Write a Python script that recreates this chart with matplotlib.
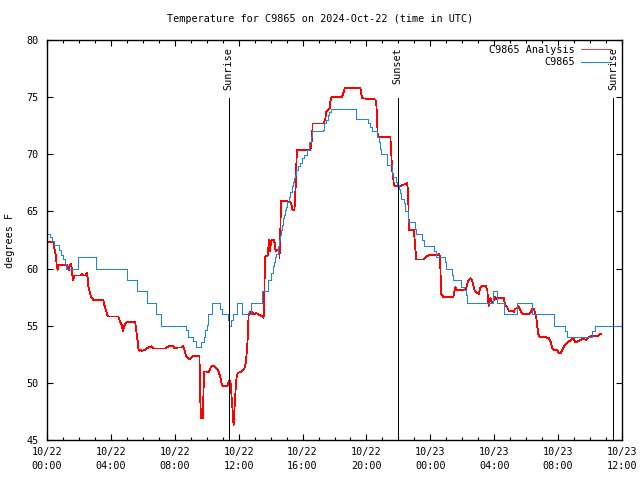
import matplotlib
matplotlib.use("Agg")
import matplotlib.pyplot as plt
from matplotlib.ticker import MultipleLocator, FixedLocator

# ---- data (hours since 2024-10-22 00:00 UTC, degrees F) ----
obs_hours = [0.00, 0.19, 0.31, 0.41, 0.75, 0.88, 1.00, 1.10, 1.19, 1.94, 3.07, 4.98, 5.64,
             6.24, 6.80, 7.15, 8.71, 8.84, 9.17, 9.32, 9.66, 9.80, 9.91, 10.01, 10.11, 10.36,
             10.85, 10.95, 11.35, 11.41, 11.54, 11.62, 11.88, 12.23, 12.79, 13.45, 13.82,
             14.04, 14.13, 14.19, 14.25, 14.36, 14.44, 14.53, 14.56, 14.65, 14.71, 14.75,
             14.84, 14.90, 14.97, 15.05, 15.13, 15.24, 15.34, 15.38, 15.44, 15.50, 15.61,
             15.69, 15.82, 15.97, 16.07, 16.28, 16.43, 16.53, 16.60, 17.29, 17.32, 17.49,
             17.57, 17.66, 17.79, 19.34, 20.09, 20.25, 20.34, 20.63, 20.77, 20.82, 20.91,
             21.30, 21.60, 21.68, 21.82, 21.92, 22.03, 22.09, 22.18, 22.34, 22.40, 22.61,
             23.04, 23.12, 23.48, 23.59, 24.26, 24.33, 24.89, 24.95, 25.36, 25.44, 25.89,
             26.10, 26.21, 26.31, 27.90, 28.15, 28.61, 29.40, 30.38, 31.72, 32.41, 32.58,
             34.14, 34.31, 36.00]
obs_temps = [63.0, 62.8, 62.4, 62.1, 61.6, 61.2, 60.8, 60.4, 60.0, 61.0, 60.0, 59.0, 58.0,
             57.0, 56.0, 55.0, 54.6, 54.0, 53.7, 53.1, 53.6, 54.0, 54.6, 55.1, 56.0, 57.0,
             56.5, 56.0, 55.5, 55.0, 55.5, 56.0, 57.0, 56.0, 57.0, 58.0, 59.0,
             59.6, 60.2, 60.6, 61.0, 61.3, 62.0, 62.5, 62.9, 63.4, 63.8, 64.4,
             64.7, 65.1, 65.4, 65.85, 66.3, 66.7, 67.2, 67.6, 67.9, 68.2, 68.6,
             69.0, 69.2, 69.65, 69.9, 70.4, 71.1, 71.5, 72.0, 72.1, 72.7, 73.0,
             73.4, 73.7, 74.0, 73.1, 72.7, 72.4, 72.0, 71.5, 71.1, 70.5, 70.0,
             69.1, 68.3, 68.0, 67.6, 67.3, 67.0, 66.6, 66.1, 65.7, 65.0, 64.1,
             63.5, 63.0, 62.5, 62.0, 61.5, 61.0, 60.6, 60.0, 59.4, 59.0, 58.4,
             58.1, 57.7, 57.0, 58.0, 57.0, 56.0, 57.0, 56.0, 55.0, 54.5, 54.0,
             54.5, 55.0, 55.0]

ana_hours = [0.00, 0.39, 0.46, 0.50, 0.56, 0.61, 0.67, 0.71, 1.24, 1.34, 1.38, 1.44, 1.50,
             1.55, 1.59, 1.65, 1.71, 2.07, 2.18, 2.28, 2.43, 2.49, 2.55, 2.59, 2.65, 2.70,
             2.76, 2.84, 2.90, 3.53, 3.59, 3.68, 3.78, 3.84, 4.47, 4.58, 4.68, 4.75, 4.81,
             4.89, 5.00, 5.52, 5.56, 5.62, 5.69, 5.72, 5.79, 5.87, 5.94, 6.14, 6.35, 6.56,
             6.66, 7.40, 7.61, 7.92, 7.98, 8.23, 8.45, 8.51, 8.59, 8.65, 8.71, 8.82, 8.92,
             9.01, 9.17, 9.55, 9.57, 9.64, 9.76, 9.80, 9.84, 9.95, 10.11, 10.18, 10.26,
             10.39, 10.53, 10.64, 10.74, 10.85, 10.95, 11.05, 11.30, 11.37, 11.47, 11.52,
             11.58, 11.64, 11.68, 11.72, 11.77, 11.83, 11.89, 11.99, 12.21, 12.35, 12.46,
             12.56, 12.62, 12.73, 12.84, 12.93, 13.10, 13.25, 13.35, 13.50, 13.56, 13.61,
             13.65, 13.73, 13.81, 13.86, 13.90, 13.94, 13.98, 14.02, 14.06, 14.19, 14.27,
             14.31, 14.40, 14.50, 14.55, 14.56, 14.58, 14.61, 14.65, 15.03, 15.13, 15.24,
             15.30, 15.38, 15.49, 15.55, 15.59, 15.61, 15.65, 16.49, 16.53, 16.60, 16.63,
             17.32, 17.43, 17.49, 17.70, 17.74, 17.81, 18.48, 18.54, 18.64, 19.62, 19.67,
             19.73, 20.56, 20.63, 20.67, 20.71, 21.50, 21.55, 21.61, 21.67, 21.71, 21.76,
             22.13, 22.24, 22.55, 22.59, 22.63, 22.65, 22.97, 23.01, 23.07, 23.12, 23.59,
             23.70, 23.91, 24.33, 24.53, 24.60, 24.64, 24.68, 24.81, 25.44, 25.52, 25.58,
             25.64, 26.21, 26.27, 26.35, 26.52, 26.63, 26.69, 26.77, 26.88, 27.04, 27.15,
             27.26, 27.46, 27.52, 27.57, 27.60, 27.65, 27.69, 27.77, 27.84, 27.94, 28.03,
             28.09, 28.23, 28.61, 28.65, 28.71, 28.78, 28.92, 29.13, 29.23, 29.30, 29.40,
             29.51, 29.61, 29.70, 29.82, 30.18, 30.28, 30.39, 30.49, 30.55, 30.64, 30.70,
             30.77, 30.87, 31.22, 31.43, 31.54, 31.64, 31.74, 31.91, 32.06, 32.16, 32.27,
             32.37, 32.58, 32.79, 32.96, 33.06, 33.21, 33.42, 33.56, 33.73, 33.84, 33.94,
             34.04, 34.46, 34.57, 34.67]
ana_temps = [62.35, 62.35, 61.8, 61.5, 61.05, 60.2, 59.9, 60.3, 60.3, 60.0, 59.9, 60.3, 60.4,
             60.0, 59.4, 59.0, 59.4, 59.4, 59.5, 59.4, 59.4, 59.6, 59.15, 58.4, 58.1, 57.8,
             57.5, 57.4, 57.25, 57.25, 56.8, 56.4, 55.9, 55.8, 55.8, 55.35, 55.06, 54.5, 54.8,
             55.2, 55.3, 55.3, 54.9, 54.2, 53.5, 53.0, 52.8, 52.9, 52.8, 52.9, 53.1, 53.2,
             53.0, 53.0, 53.2, 53.2, 53.0, 53.1, 53.1, 53.2, 53.0, 52.6, 52.3, 52.15, 52.06,
             52.2, 52.35, 52.35, 49.5, 46.9, 46.9, 49.4, 51.0, 51.0, 50.9, 51.1, 51.4,
             51.5, 51.4, 51.2, 51.0, 50.5, 49.8, 49.7, 49.7, 50.1, 50.2, 49.7,
             48.2, 47.3, 46.3, 47.3, 48.6, 49.9, 50.7, 50.9, 51.0, 51.2, 51.85,
             53.75, 55.9, 56.2, 56.2, 56.0, 56.1, 56.0, 55.9, 55.8, 55.7, 58.0,
             61.0, 61.1, 61.1, 61.9, 62.5, 61.5, 61.8, 62.2, 62.5, 62.5, 62.2,
             61.5, 61.6, 61.6, 61.3, 60.9, 63.1, 63.4, 65.9, 65.9, 65.85, 65.85,
             65.6, 65.1, 65.1, 66.6, 67.75, 69.06, 70.4, 70.4, 70.8, 71.4, 72.7,
             72.7, 73.15, 73.7, 74.0, 74.6, 75.04, 75.04, 75.3, 75.77, 75.77, 75.3,
             74.9, 74.8, 74.16, 72.85, 71.5, 71.5, 70.2, 68.6, 68.0, 67.46, 67.2,
             67.2, 67.3, 67.46, 66.9, 65.4, 63.4, 63.4, 62.65, 61.6, 60.8, 60.8,
             61.0, 61.16, 61.16, 61.25, 61.04, 59.6, 57.8, 57.5, 57.5, 58.1, 58.36,
             58.1, 58.1, 58.4, 58.85, 59.15, 58.9, 58.56, 58.06, 57.9, 57.8, 58.4,
             58.5, 58.5, 58.3, 58.1, 57.5, 56.75, 57.0, 57.4, 57.0, 57.1, 57.5,
             57.3, 57.45, 57.4, 57.0, 56.7, 56.7, 56.3, 56.3, 56.2, 56.5, 56.5,
             56.7, 56.4, 56.2, 56.0, 56.0, 56.2, 56.5, 56.5, 56.1, 55.65, 54.9,
             54.2, 54.0, 54.0, 53.9, 53.6, 53.0, 52.9, 52.9, 52.6, 52.6, 52.9,
             53.2, 53.5, 53.75, 53.9, 53.6, 53.6, 53.75, 53.9, 53.75, 53.9, 54.0,
             54.1, 54.1, 54.2, 54.3]

event_hours = [11.37, 21.96, 35.44]
event_labels = ["Sunrise", "Sunset", "Sunrise"]

xtick_hours = [0, 4, 8, 12, 16, 20, 24, 28, 32, 36]
xtick_labels = ["10/22\n00:00", "10/22\n04:00", "10/22\n08:00", "10/22\n12:00",
                "10/22\n16:00", "10/22\n20:00", "10/23\n00:00", "10/23\n04:00",
                "10/23\n08:00", "10/23\n12:00"]
ytick_values = [45, 50, 55, 60, 65, 70, 75, 80]

title = "Temperature for C9865 on 2024-Oct-22 (time in UTC)"
ylabel = "degrees F"
ana_label = "C9865 Analysis"
obs_label = "C9865"

# ---- figure ----
plt.rcParams["font.family"] = ["DejaVu Sans Mono"]
FS = 7.3
fig = plt.figure(figsize=(6.4, 4.8), dpi=100)
ax = fig.add_axes([47 / 640, 40 / 480, 575 / 640, 400 / 480])

ax.plot(ana_hours, ana_temps, color="#ff0000", lw=0.55, label=ana_label,
        antialiased=False)
ax.plot(obs_hours, obs_temps, color="#1a84f0", lw=0.72, drawstyle="steps-post",
        label=obs_label, antialiased=False, snap=True)

for h, lab in zip(event_hours, event_labels):
    ax.axvline(h, ymin=0, ymax=0.855, color="black", lw=0.72, antialiased=False)
    ax.text(h, 0.983, lab, transform=ax.get_xaxis_transform(), rotation=90,
            ha="center", va="top", fontsize=FS)

ax.set_xlim(0, 36)
ax.set_ylim(45, 80)
ax.xaxis.set_major_locator(FixedLocator(xtick_hours))
ax.set_xticklabels(xtick_labels, fontsize=FS, linespacing=1.45)
ax.xaxis.set_minor_locator(MultipleLocator(1))
ax.set_yticks(ytick_values)
ax.set_yticklabels([str(v) for v in ytick_values], fontsize=FS)

ax.tick_params(axis="both", which="both", direction="in", top=True, right=True,
               width=0.8, colors="black")
ax.tick_params(axis="both", which="major", length=4.5)
ax.tick_params(axis="both", which="minor", length=2.5)
ax.tick_params(axis="x", which="major", pad=5)
ax.tick_params(axis="y", which="major", pad=6)
for s in ax.spines.values():
    s.set_linewidth(1.0)

ax.set_ylabel(ylabel, fontsize=FS, labelpad=8)
fig.text(0.5, 1 - 19 / 480, title, ha="center", va="center", fontsize=FS)

leg = ax.legend(loc="upper right", bbox_to_anchor=(0.988, 1.0), frameon=False,
                markerfirst=False, fontsize=FS, handlelength=2.9, handletextpad=0.6,
                borderaxespad=0.25, labelspacing=0.28, borderpad=0.2)

fig.savefig("out.png", dpi=100)
